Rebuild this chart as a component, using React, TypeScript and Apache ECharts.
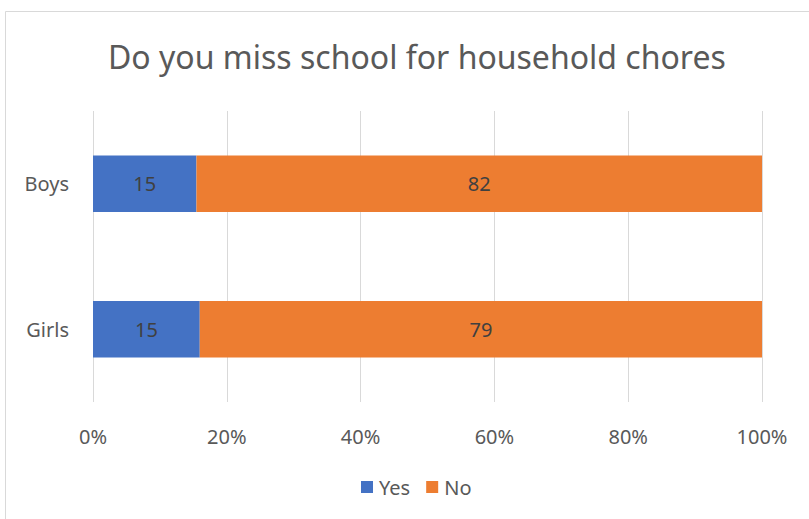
import React, { useEffect, useRef } from "react";
import * as echarts from "echarts";

const title = "Do you miss school for household chores";
const categories = ["Boys", "Girls"];
const yesValues = [15, 15];
const noValues = [82, 79];
const seriesNames = ["Yes", "No"];
const tickLabels = ["0%", "20%", "40%", "60%", "80%", "100%"];

const FONT = "'Noto Sans', 'Open Sans', sans-serif";

export default function App() {
  const ref = useRef<HTMLDivElement>(null);
  useEffect(() => {
    document.body.style.margin = "0";
    const chart = echarts.init(ref.current!, null, { renderer: "svg" });
    const totals = categories.map((_, i) => yesValues[i] + noValues[i]);
    const yesPct = yesValues.map((v, i) => (v / totals[i]) * 100);
    const noPct = noValues.map((v, i) => (v / totals[i]) * 100);
    const raw = [yesValues, noValues];
    const mkSeries = (name: string, data: number[], idx: number, color: string) => ({
      name,
      type: "bar",
      stack: "total",
      barCategoryGap: "61%",
      data,
      itemStyle: { color },
      label: {
        show: true,
        position: "inside",
        color: "#404040",
        fontSize: 20,
        fontFamily: FONT,
        formatter: (p: any) => String(raw[idx][p.dataIndex]),
      },
    });
    chart.setOption({
      animation: false,
      backgroundColor: "#ffffff",
      textStyle: { fontFamily: FONT },
      title: {
        text: title,
        left: 103,
        top: 35,
        textStyle: { color: "#595959", fontSize: 32, fontWeight: "normal", fontFamily: FONT },
      },
      graphic: [
        {
          type: "rect",
          shape: { x: 5.5, y: 11.5, width: 830, height: 530 },
          style: { fill: "none", stroke: "#d9d9d9", lineWidth: 1 },
          silent: true,
        },
      ],
      legend: {
        top: 472,
        left: 356,
        itemWidth: 12,
        itemHeight: 12,
        itemGap: 16,
        icon: "rect",
        data: seriesNames,
        textStyle: { color: "#595959", fontSize: 20, fontFamily: FONT, padding: [0, 0, 0, 1] },
      },
      grid: { left: 93, right: 47, top: 111, bottom: 117, containLabel: false },
      xAxis: {
        type: "value",
        min: 0,
        max: 100,
        interval: 20,
        axisLine: { show: false },
        axisTick: { show: false },
        splitLine: { lineStyle: { color: "#d9d9d9", width: 1 } },
        axisLabel: {
          color: "#595959",
          fontSize: 20,
          fontFamily: FONT,
          margin: 24,
          formatter: (v: number) => tickLabels[Math.round(v / 20)] ?? "",
        },
      },
      yAxis: {
        type: "category",
        inverse: true,
        data: categories,
        axisLine: { show: false },
        axisTick: { show: false },
        axisLabel: { color: "#595959", fontSize: 20, fontFamily: FONT, margin: 24 },
      },
      series: [
        mkSeries(seriesNames[0], yesPct, 0, "#4472C4"),
        mkSeries(seriesNames[1], noPct, 1, "#ED7D31"),
      ],
    });
    return () => chart.dispose();
  }, []);
  return <div ref={ref} style={{ width: 809, height: 519 }} />;
}
